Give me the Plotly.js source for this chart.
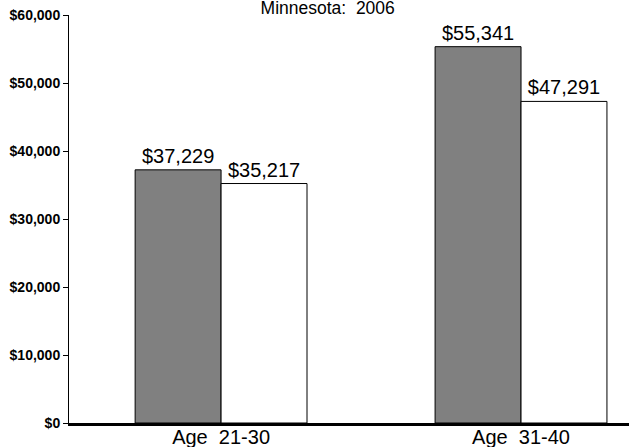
<!DOCTYPE html>
<html>
<head>
<meta charset="utf-8">
<script src="https://cdn.plot.ly/plotly-3.0.1.min.js"></script>
<style>html,body{margin:0;padding:0;background:#fff;}#chart{width:629px;height:447px;}</style>
</head>
<body>
<div id="chart"></div>
<script>
const categories = ['Age 21-30', 'Age 31-40'];
const series1 = [37229, 55341];
const series2 = [35217, 47291];
const yTicks = [0, 10000, 20000, 30000, 40000, 50000, 60000];

const FONT = 'Liberation Sans, Arial, sans-serif';

const traces = [
  {
    type: 'bar', x: categories, y: series1,
    marker: {color: '#808080', line: {color: '#000', width: 1}},
    texttemplate: '$%{y:,}', textposition: 'outside', cliponaxis: false,
    textfont: {family: FONT, size: 20, color: '#000'},
    hoverinfo: 'none'
  },
  {
    type: 'bar', x: categories, y: series2,
    marker: {color: '#ffffff', line: {color: '#000', width: 1}},
    texttemplate: '$%{y:,}', textposition: 'outside', cliponaxis: false,
    textfont: {family: FONT, size: 20, color: '#000'},
    hoverinfo: 'none'
  }
];

const layout = {
  width: 629, height: 447,
  margin: {l: 69, r: 0, t: 15, b: 24, pad: 0},
  paper_bgcolor: '#fff', plot_bgcolor: '#fff',
  showlegend: false,
  barmode: 'group', bargap: 0.427, bargroupgap: 0,
  title: {
    text: 'Minnesota:\u00a0 2006',
    font: {family: FONT, size: 17.5, color: '#000'},
    xref: 'container', x: 0.521, xanchor: 'center',
    yref: 'container', y: 0.969, yanchor: 'bottom', pad: {t: 0, b: 0}
  },
  xaxis: {
    type: 'category', range: [-0.507, 1.36],
    tickvals: categories,
    ticktext: categories.map(c => c.replace(' ', '\u00a0 ')),
    showline: true, linecolor: '#000', linewidth: 3,
    ticks: '', showgrid: false, zeroline: false,
    ticklabelstandoff: -6,
    tickfont: {family: FONT, size: 20, color: '#000'}
  },
  yaxis: {
    range: [0, 60000], tickvals: yTicks, tickformat: '$,.0f',
    showline: true, linecolor: '#000', linewidth: 1,
    ticks: 'outside', ticklen: 5, tickcolor: '#000', tickwidth: 1,
    showgrid: false, zeroline: false,
    tickfont: {family: FONT, size: 14, color: '#000', weight: 'bold'}
  },
  font: {family: FONT}
};

Plotly.newPlot('chart', traces, layout, {staticPlot: true, displayModeBar: false});
</script>
</body>
</html>
